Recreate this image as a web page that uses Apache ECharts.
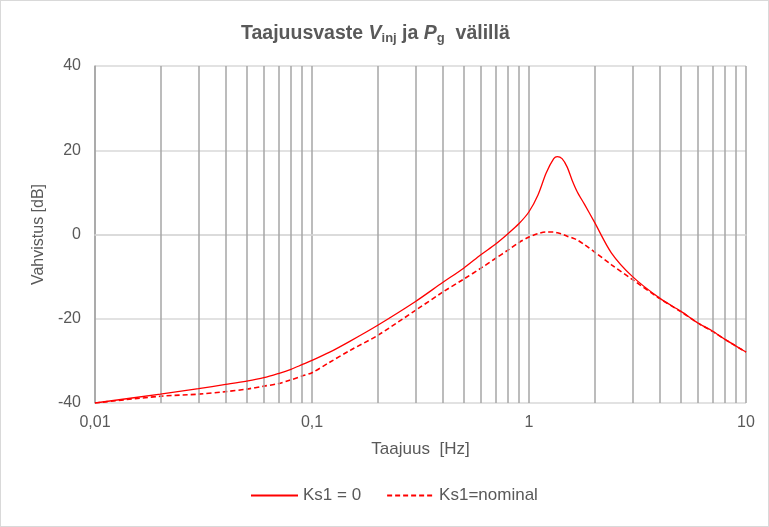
<!DOCTYPE html>
<html>
<head>
<meta charset="utf-8">
<script src="https://cdn.jsdelivr.net/npm/echarts@6/dist/echarts.min.js"></script>
<style>
  html, body { margin: 0; padding: 0; background: #fff; }
  #chart { width: 769px; height: 527px; box-sizing: border-box; border: 1px solid #d9d9d9; }
</style>
</head>
<body>
<div id="chart"></div>
<script>
// taajuudet [Hz]
var freq = [0.01, 0.02, 0.03, 0.04, 0.05, 0.06, 0.07, 0.08, 0.09, 0.1, 0.12, 0.15, 0.2, 0.3, 0.4, 0.5, 0.6, 0.7, 0.8, 0.9,
  1.0, 1.1, 1.2, 1.3, 1.35, 1.42, 1.5, 1.58, 1.67, 1.8, 2.0, 2.4, 3, 4, 5, 6, 7, 8, 9, 10]
// Ks1 = 0 [dB]
var gainKs0 = [-40, -37.9, -36.6, -35.6, -34.8, -34.0, -33.0, -32.0, -30.9, -29.9, -28.0, -25.3, -21.6, -15.9, -11.4, -8.0, -4.8, -2.3, 0.2, 2.6,
  5.4, 9.4, 14.6, 18.0, 18.5, 18.0, 16.0, 12.9, 10.1, 7.2, 3.0, -4.4, -10.0, -15.1, -18.2, -21.0, -22.9, -24.9, -26.5, -27.9]
// Ks1 = nominal [dB]
var gainNominal = [-40, -38.4, -37.9, -37.3, -36.7, -36.0, -35.4, -34.5, -33.6, -32.8, -30.4, -27.5, -24.0, -18.0, -13.7, -10.6, -8.0, -5.7, -3.7, -1.9,
  -0.6, 0.2, 0.6, 0.6, 0.4, 0.1, -0.4, -0.8, -1.3, -2.4, -4.1, -7.2, -10.7, -15.2, -18.3, -21.0, -23.0, -24.9, -26.5, -27.9]
// pystyviivat vuosikymmenten välissä
var minorTicks = [0.02, 0.03, 0.04, 0.05, 0.06, 0.07, 0.08, 0.09,
  0.2, 0.3, 0.4, 0.5, 0.6, 0.7, 0.8, 0.9,
  2, 3, 4, 5, 6, 7, 8, 9]
var yTicks = { min: -40, max: 40, interval: 20 }

var FONT = 'Liberation Sans'
var TXT = '#595959'

function pairs(vals) {
  return freq.map(function (f, i) { return [f, vals[i]] })
}

var chart = echarts.init(document.getElementById('chart'))
var option = {
  animation: false,
  textStyle: { fontFamily: FONT },
  title: {
    text: '{b|Taajuusvaste }{i|V}{s|inj}{b| ja }{i|P}{s|g}{b|  välillä}',
    left: 235,
    top: 16,
    textStyle: {
      rich: {
        b: { fontFamily: FONT, fontSize: 19.5, fontWeight: 'bold', color: TXT },
        i: { fontFamily: FONT, fontSize: 19.5, fontWeight: 'bold', fontStyle: 'italic', color: TXT },
        s: { fontFamily: FONT, fontSize: 13, fontWeight: 'bold', color: TXT, padding: [10, 0, 0, 0] }
      }
    }
  },
  legend: {
    left: 244,
    top: 481,
    itemWidth: 47,
    itemHeight: 14,
    itemGap: 25,
    itemStyle: { opacity: 0 },
    textStyle: { color: TXT, fontSize: 17, fontFamily: FONT },
    data: ['Ks1 = 0', 'Ks1=nominal']
  },
  grid: { left: 94, right: 22, top: 65, bottom: 123 },
  xAxis: {
    type: 'log',
    logBase: 10,
    min: 0.01,
    max: 10,
    name: 'Taajuus  [Hz]',
    nameLocation: 'middle',
    nameGap: 38,
    nameTextStyle: { color: TXT, fontSize: 17, fontFamily: FONT },
    axisLine: { lineStyle: { color: '#d9d9d9', width: 1.5 } },
    axisTick: { show: false },
    axisLabel: {
      color: TXT, fontSize: 16, fontFamily: FONT, margin: 12,
      formatter: function (v) { return String(+v.toPrecision(6)).replace('.', ',') }
    },
    splitLine: { show: true, lineStyle: { color: '#a6a6a6', width: 1.5 } }
  },
  yAxis: {
    type: 'value',
    min: yTicks.min,
    max: yTicks.max,
    interval: yTicks.interval,
    name: 'Vahvistus [dB]',
    nameLocation: 'middle',
    nameGap: 44,
    nameTextStyle: { color: TXT, fontSize: 16, fontFamily: FONT },
    axisLine: { show: true, lineStyle: { color: '#a6a6a6', width: 1.5 } },
    axisTick: { show: false },
    axisLabel: { color: TXT, fontSize: 16, fontFamily: FONT, margin: 14 },
    splitLine: { lineStyle: { color: '#d9d9d9', width: 1.5 } }
  },
  series: [
    {
      name: 'Ks1 = 0',
      type: 'line',
      data: pairs(gainKs0),
      smooth: 0.3,
      symbol: 'none',
      z: 5,
      lineStyle: { color: '#ff0000', width: 1.3 },
      itemStyle: { color: '#ff0000' },
      markLine: {
        silent: true,
        symbol: 'none',
        label: { show: false },
        animation: false,
        lineStyle: { color: '#a6a6a6', width: 1.5, type: 'solid' },
        data: minorTicks.map(function (t) { return { xAxis: t } })
      }
    },
    {
      name: 'Ks1=nominal',
      type: 'line',
      data: pairs(gainNominal),
      smooth: 0.3,
      symbol: 'none',
      z: 4,
      lineStyle: { color: '#ff0000', width: 1.6, type: [5, 3] },
      itemStyle: { color: '#ff0000' }
    }
  ]
}
chart.setOption(option)
</script>
</body>
</html>
